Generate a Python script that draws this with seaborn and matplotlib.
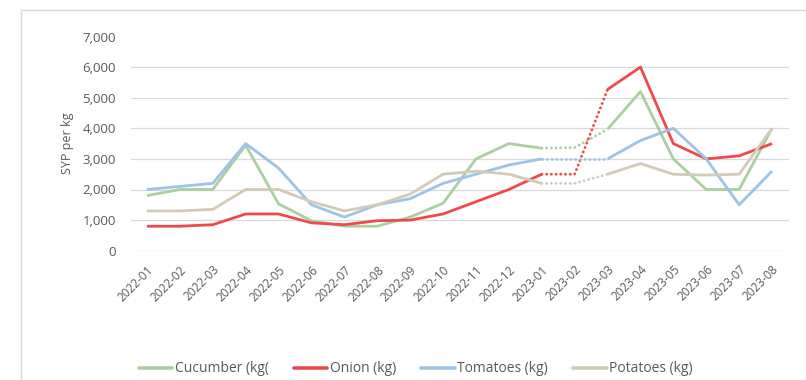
import matplotlib
matplotlib.use("Agg")
import matplotlib.pyplot as plt
import seaborn as sns
import pandas as pd
from matplotlib.patches import Rectangle
from matplotlib.ticker import FuncFormatter

months = ['2022-01', '2022-02', '2022-03', '2022-04', '2022-05', '2022-06', '2022-07',
          '2022-08', '2022-09', '2022-10', '2022-11', '2022-12', '2023-01', '2023-02',
          '2023-03', '2023-04', '2023-05', '2023-06', '2023-07', '2023-08']
cucumber = [1800, 2000, 2000, 3450, 1530, 980, 800, 800, 1100, 1550, 3000, 3500, 3350,
            3370, 3970, 5200, 3000, 2000, 2000, 4000]
onion = [800, 800, 850, 1200, 1200, 910, 850, 980, 1000, 1200, 1600, 2000, 2500,
         2500, 5270, 6000, 3500, 3000, 3100, 3500]
tomatoes = [2000, 2100, 2200, 3500, 2700, 1500, 1100, 1500, 1700, 2200, 2500, 2800, 3000,
            3000, 3000, 3600, 4000, 3000, 1500, 2600]
potatoes = [1300, 1300, 1350, 2000, 2000, 1600, 1300, 1500, 1850, 2500, 2600, 2500, 2200,
            2200, 2500, 2850, 2500, 2470, 2500, 4000]
series_names = ['Cucumber (kg(', 'Onion (kg)', 'Tomatoes (kg)', 'Potatoes (kg)']
series_values = [cucumber, onion, tomatoes, potatoes]
colors = ['#A9D09E', '#EE4A4C', '#9DC3E6', '#D3CAB8']

# segments: solid up to 2023-01, dotted 2023-01..2023-03, solid from 2023-03
seg_solid1 = (0, 12)
seg_dot = (12, 14)
seg_solid2 = (14, 19)

sns.set_theme(style="white")
plt.rcParams['font.family'] = ['Open Sans', 'DejaVu Sans']
TXT = '#595959'

fig = plt.figure(figsize=(8.06, 3.80), dpi=100)
ax = fig.add_axes([130.5 / 806, 1 - 250.7 / 380, 658 / 806, (250.7 - 36.5) / 380])

x_idx = list(range(len(months)))
handles = []
for name, vals, col in zip(series_names, series_values, colors):
    df = pd.DataFrame({'x': x_idx, 'y': vals})
    for (a, b), ls in [(seg_solid1, '-'), (seg_dot, (0, (0.1, 1.6))), (seg_solid2, '-')]:
        sub = df.iloc[a:b + 1]
        sns.lineplot(data=sub, x='x', y='y', ax=ax, color=col, lw=2.0,
                     linestyle=ls, dash_capstyle='round', solid_capstyle='butt',
                     legend=False, sort=False)
    handles.append(plt.Line2D([], [], color=col, lw=2.6, label=name))

ax.set_xlim(-0.5, len(months) - 0.5)
ax.set_ylim(0, 7000)
ax.set_yticks(range(0, 7001, 1000))
ax.yaxis.set_major_formatter(FuncFormatter(lambda v, p: f'{int(v):,}'))
ax.set_xticks(x_idx)
ax.set_xticklabels(months, rotation=45, ha='right', va='top', rotation_mode='anchor',
                   fontsize=8.5, color=TXT)
ax.tick_params(axis='x', length=0, pad=9)
ax.tick_params(axis='y', length=0, pad=10.4, labelsize=9.5, labelcolor=TXT)

ax.grid(axis='y', color='#D9D9D9', lw=0.9)
ax.grid(axis='x', visible=False)
for loc, gl in zip(ax.get_yticks(), ax.get_ygridlines()):
    if loc > 6500:
        gl.set_visible(False)
for s in ax.spines.values():
    s.set_visible(False)

ax.set_xlabel('')
ax.set_ylabel('SYP per kg', fontsize=9, color=TXT)
ax.yaxis.set_label_coords((67 - 130.5) / 658, 0.5)
ax.yaxis.label.set_va('center')

fig.legend(handles=handles, loc='center', ncol=4, frameon=False,
           bbox_to_anchor=(416 / 806, 1 - 369 / 380), fontsize=10,
           handlelength=2.4, handletextpad=0.2, columnspacing=1.8, labelcolor=TXT)

fig.patches.append(Rectangle((21 / 806, -0.1), 1.2, 1 - 10 / 380 + 0.1,
                             transform=fig.transFigure, fill=False,
                             edgecolor='#D9D9D9', lw=1.0))

fig.savefig('out.png', dpi=100, facecolor='white')
